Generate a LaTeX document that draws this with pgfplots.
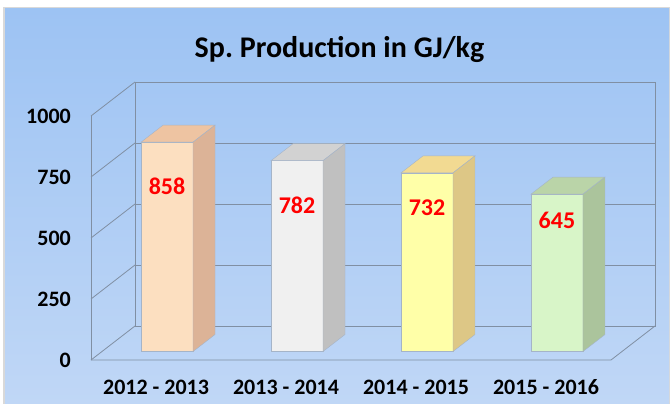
\documentclass[border=0pt]{standalone}
\usepackage{fontspec}
\setmainfont{Carlito}
\usepackage{pgfplots}
\pgfplotsset{compat=1.18}
\frenchspacing
\definecolor{bgtop}{RGB}{157,195,243}
\definecolor{bgbot}{RGB}{192,215,246}
\definecolor{wallc}{RGB}{128,143,163}
\definecolor{barline}{RGB}{165,180,200}
\definecolor{aF}{RGB}{252,223,192}\definecolor{aT}{RGB}{238,196,162}\definecolor{aS}{RGB}{220,179,151}
\definecolor{bF}{RGB}{240,240,240}\definecolor{bT}{RGB}{210,210,210}\definecolor{bS}{RGB}{192,192,192}
\definecolor{cF}{RGB}{255,255,168}\definecolor{cT}{RGB}{242,218,146}\definecolor{cS}{RGB}{221,199,134}
\definecolor{dF}{RGB}{216,245,200}\definecolor{dT}{RGB}{186,212,168}\definecolor{dS}{RGB}{171,196,156}
\begin{document}
\begin{tikzpicture}
\useasboundingbox (0,0) rectangle (670pt,404pt);
\fill[white] (0,0) rectangle (670pt,404pt);
\fill[black!15] (3pt,0) rectangle (670pt,397pt);
\shade[top color=bgtop, bottom color=bgbot] (5pt,0) rectangle (669pt,395pt);
\node[anchor=base, font=\fontsize{30}{34}\selectfont\bfseries] at (339.5pt,346.7pt) {Sp.\ Production in GJ/kg};
\begin{axis}[
  at={(91pt,44pt)}, anchor=south west,
  scale only axis, width=564pt, height=278pt,
  xmin=-0.585, xmax=3.754, ymin=-34.8, ymax=1104.5,
  axis lines=left, axis line style={draw=none},
  major tick length=0pt,
  clip=false,
  /pgf/number format/assume math mode=true,
  ytick={-34.8,215.2,465.2,715.2,965.2},
  yticklabels={0,250,500,750,1000},
  xtick={-0.0846,0.9154,1.9154,2.9154},
  xticklabels={2012 - 2013,2013 - 2014,2014 - 2015,2015 - 2016},
  tick label style={font=\fontsize{22}{24}\selectfont\bfseries, inner sep=0pt},
  yticklabel style={anchor=east, xshift=-20pt},
  xticklabel style={anchor=base, yshift=-34.3pt},
  wall/.style={draw=wallc, line width=0.8pt, forget plot},
]
% back wall
\addplot[wall] coordinates {(-0.2465,104.5) (3.754,104.5) (3.754,1104.5) (-0.2465,1104.5) (-0.2465,104.5)};
\addplot[wall] coordinates {(-0.2465,354.5) (3.754,354.5)};
\addplot[wall] coordinates {(-0.2465,604.5) (3.754,604.5)};
\addplot[wall] coordinates {(-0.2465,854.5) (3.754,854.5)};
% left wall
\addplot[wall] coordinates {(-0.585,-34.8) (-0.585,965.2)};
\addplot[wall] coordinates {(-0.585,-34.8) (-0.2465,104.5)};
\addplot[wall] coordinates {(-0.585,215.2) (-0.2465,354.5)};
\addplot[wall] coordinates {(-0.585,465.2) (-0.2465,604.5)};
\addplot[wall] coordinates {(-0.585,715.2) (-0.2465,854.5)};
\addplot[wall] coordinates {(-0.585,965.2) (-0.2465,1104.5)};
% floor
\addplot[wall] coordinates {(-0.585,-34.8) (3.4155,-34.8) (3.754,104.5)};
% bars: front faces
\addplot[ybar, bar shift=0, bar width=0.4, fill=aF, draw=barline, forget plot] coordinates {(0,858)};
\addplot[ybar, bar shift=0, bar width=0.4, fill=bF, draw=barline, forget plot] coordinates {(1,782)};
\addplot[ybar, bar shift=0, bar width=0.4, fill=cF, draw=barline, forget plot] coordinates {(2,732)};
\addplot[ybar, bar shift=0, bar width=0.4, fill=dF, draw=barline, forget plot] coordinates {(3,645)};
% tops
\addplot[fill=aT, draw=barline, forget plot] coordinates {(-0.2,858) (0.2,858) (0.3692,927.65) (-0.0308,927.65)} -- cycle;
\addplot[fill=bT, draw=barline, forget plot] coordinates {(0.8,782) (1.2,782) (1.3692,851.65) (0.9692,851.65)} -- cycle;
\addplot[fill=cT, draw=barline, forget plot] coordinates {(1.8,732) (2.2,732) (2.3692,801.65) (1.9692,801.65)} -- cycle;
\addplot[fill=dT, draw=barline, forget plot] coordinates {(2.8,645) (3.2,645) (3.3692,714.65) (2.9692,714.65)} -- cycle;
% sides
\addplot[fill=aS, draw=barline, forget plot] coordinates {(0.2,0) (0.2,858) (0.3692,927.65) (0.3692,69.65)} -- cycle;
\addplot[fill=bS, draw=barline, forget plot] coordinates {(1.2,0) (1.2,782) (1.3692,851.65) (1.3692,69.65)} -- cycle;
\addplot[fill=cS, draw=barline, forget plot] coordinates {(2.2,0) (2.2,732) (2.3692,801.65) (2.3692,69.65)} -- cycle;
\addplot[fill=dS, draw=barline, forget plot] coordinates {(3.2,0) (3.2,645) (3.3692,714.65) (3.3692,69.65)} -- cycle;
% value labels
\addplot[draw=none, mark=none, nodes near coords, point meta=explicit symbolic,
  nodes near coords style={anchor=center, text=red, font=\fontsize{24}{26}\selectfont\bfseries}]
  coordinates {(0,678)[858] (1,600)[782] (2,588)[732] (3,539)[645]};
\end{axis}
\end{tikzpicture}
\end{document}
